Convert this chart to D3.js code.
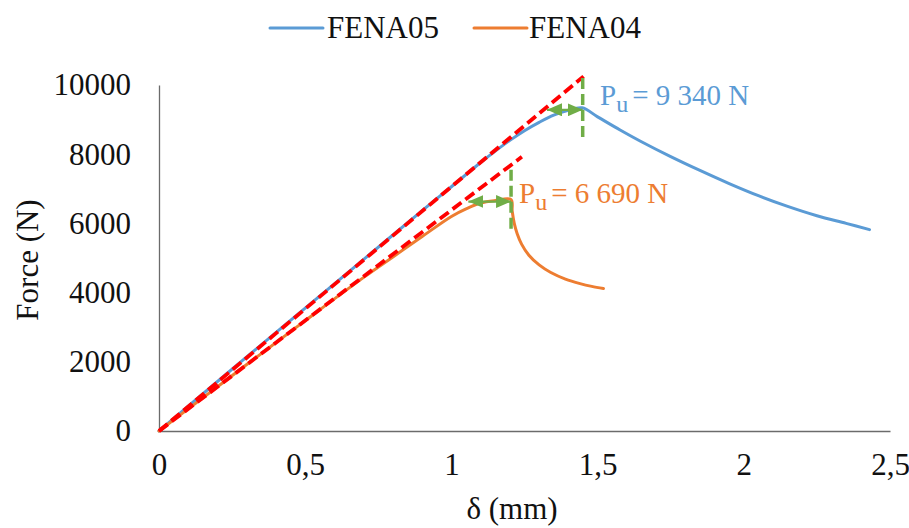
<!DOCTYPE html>
<html>
<head>
<meta charset="utf-8">
<script src="https://cdn.jsdelivr.net/npm/d3@7"></script>
<style>
  html, body { margin: 0; padding: 0; background: #fff; }
  svg { display: block; font-family: "Liberation Serif", "Times New Roman", serif; }
</style>
</head>
<body>
<svg id="chart" width="909" height="528"></svg>
<script>
// ---- Data ----
const fena05X = [0, 0.1, 0.3, 0.5, 0.7, 0.9, 1.0, 1.1, 1.15, 1.2, 1.25, 1.3, 1.35, 1.4, 1.447, 1.5, 1.577, 1.65, 1.75, 1.85, 1.95, 2.05, 2.15, 2.25, 2.35, 2.43];
const fena05F = [0, 720, 2140, 3550, 4960, 6370, 7060, 7760, 8090, 8400, 8680, 8920, 9130, 9270, 9340, 9080, 8700, 8360, 7930, 7530, 7150, 6800, 6490, 6220, 6000, 5820];

const fena04X = [0, 0.1, 0.3, 0.5, 0.7, 0.8, 0.9, 1.0, 1.05, 1.1, 1.15, 1.204, 1.208, 1.215, 1.225, 1.24, 1.265, 1.3, 1.34, 1.39, 1.44, 1.48, 1.52];
const fena04F = [0, 640, 1920, 3190, 4440, 5030, 5620, 6200, 6420, 6590, 6660, 6690, 6350, 6000, 5700, 5400, 5080, 4800, 4580, 4390, 4260, 4180, 4120];

// tangent (stiffness) lines: [x0, F0, x1, F1]
const tangent05 = [0, 0, 1.452, 10250];
const tangent04 = [0, 0, 1.241, 7925];

// ultimate load markers
const peak05 = { x: 1.449, F: 9340, arrowFrom: 1.327, vTop: 10200, vBottom: 8500, label: "= 9 340 N" };
const peak04 = { x: 1.204, F: 6690, arrowFrom: 1.058, vTop: 7550, vBottom: 5760, label: "= 6 690 N" };

const xTicks = [0, 0.5, 1, 1.5, 2, 2.5];
const yTicks = [0, 2000, 4000, 6000, 8000, 10000];
const seriesNames = ["FENA05", "FENA04"];
const xTitle = "δ (mm)";
const yTitle = "Force (N)";

// ---- Chart ----
const blue = "#5B9BD5", orange = "#ED7D31", red = "#FF0000", green = "#70AD47";
const serif = "Liberation Serif, Times New Roman, serif";
const svg = d3.select("#chart");
const x = d3.scaleLinear().domain([0, 2.5]).range([159, 890]);
const y = d3.scaleLinear().domain([0, 10000]).range([431, 85]);

// axes
const xAxis = d3.axisBottom(x).tickValues(xTicks).tickSize(0).tickPadding(22)
  .tickFormat(d => String(d).replace(".", ","));
const yAxis = d3.axisLeft(y).tickValues(yTicks).tickSize(0).tickPadding(28)
  .tickFormat(d => String(d));

const gx = svg.append("g").attr("transform", `translate(0,${y(0)})`).call(xAxis);
const gy = svg.append("g").attr("transform", `translate(${x(0)},0)`).call(yAxis);
[gx, gy].forEach(g => {
  g.attr("font-family", serif);
  g.select(".domain").attr("stroke", "#6b6b6b").attr("stroke-width", 1.3);
  g.selectAll("text").attr("font-size", 31).attr("fill", "#111");
});

// axis titles
svg.append("text").attr("x", 512).attr("y", 519).attr("text-anchor", "middle")
  .attr("font-size", 31).attr("fill", "#111").text(xTitle);
svg.append("text").attr("transform", "translate(38,260) rotate(-90)").attr("text-anchor", "middle")
  .attr("font-size", 31).attr("fill", "#111").text(yTitle);

// series lines
const line = d3.line().x(d => x(d[0])).y(d => y(d[1])).curve(d3.curveCatmullRom.alpha(0.5));
const d05 = fena05X.map((v, i) => [v, fena05F[i]]);
const d04 = fena04X.map((v, i) => [v, fena04F[i]]);

svg.append("path").datum(d05).attr("d", line).attr("fill", "none")
  .attr("stroke", blue).attr("stroke-width", 3).attr("stroke-linejoin", "round").attr("stroke-linecap", "round");
svg.append("path").datum(d04).attr("d", line).attr("fill", "none")
  .attr("stroke", orange).attr("stroke-width", 3).attr("stroke-linejoin", "round").attr("stroke-linecap", "round");

// tangent red dashed lines
[tangent05, tangent04].forEach(t => {
  svg.append("line").attr("x1", x(t[0])).attr("y1", y(t[1])).attr("x2", x(t[2])).attr("y2", y(t[3]))
    .attr("stroke", red).attr("stroke-width", 3.8).attr("stroke-dasharray", "11,5");
});

// arrow markers
const defs = svg.append("defs");
defs.append("marker").attr("id", "arrEnd").attr("viewBox", "0 0 15 13").attr("refX", 15).attr("refY", 6.5)
  .attr("markerWidth", 15).attr("markerHeight", 13).attr("markerUnits", "userSpaceOnUse").attr("orient", "auto")
  .append("path").attr("d", "M0,0 L15,6.5 L0,13 Z").attr("fill", green);
defs.append("marker").attr("id", "arrStart").attr("viewBox", "0 0 15 13").attr("refX", 0).attr("refY", 6.5)
  .attr("markerWidth", 15).attr("markerHeight", 13).attr("markerUnits", "userSpaceOnUse").attr("orient", "auto")
  .append("path").attr("d", "M15,0 L0,6.5 L15,13 Z").attr("fill", green);

// green markers
[peak05, peak04].forEach(p => {
  svg.append("line").attr("x1", x(p.x)).attr("x2", x(p.x)).attr("y1", y(p.vTop)).attr("y2", y(p.vBottom))
    .attr("stroke", green).attr("stroke-width", 3.5).attr("stroke-dasharray", "11,5");
  svg.append("line").attr("x1", x(p.arrowFrom)).attr("x2", x(p.x)).attr("y1", y(p.F) + 2).attr("y2", y(p.F) + 2)
    .attr("stroke", green).attr("stroke-width", 2.2)
    .attr("marker-start", "url(#arrStart)").attr("marker-end", "url(#arrEnd)");
});

// annotations
function annot(p, color, ax, ay) {
  const t = svg.append("text").attr("x", ax).attr("y", ay).attr("font-size", 29).attr("fill", color);
  t.append("tspan").text("P");
  t.append("tspan").attr("font-size", 24).attr("dy", 7).text("u");
  t.append("tspan").attr("dy", -7).attr("dx", 4).text(p.label);
}
annot(peak05, blue, 600, 105);
annot(peak04, orange, 519, 203);

// legend
const legend = [{ name: seriesNames[0], color: blue, lx: 270, tx: 327 }, { name: seriesNames[1], color: orange, lx: 474, tx: 529 }];
legend.forEach(l => {
  svg.append("line").attr("x1", l.lx).attr("x2", l.lx + 53).attr("y1", 28).attr("y2", 28)
    .attr("stroke", l.color).attr("stroke-width", 3).attr("stroke-linecap", "round");
  svg.append("text").attr("x", l.tx).attr("y", 38).attr("font-size", 31).attr("fill", "#111").text(l.name);
});
</script>
</body>
</html>
